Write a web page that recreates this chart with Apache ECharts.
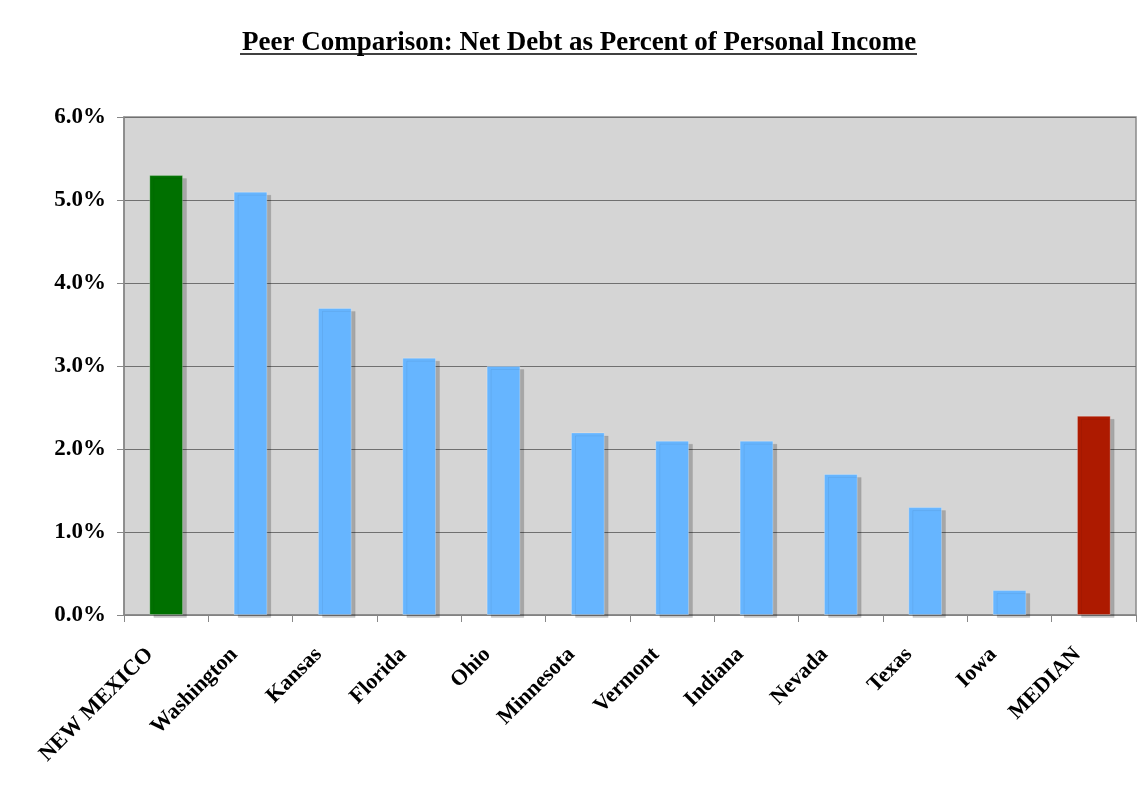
<!DOCTYPE html>
<html>
<head>
<meta charset="utf-8">
<script src="https://cdn.jsdelivr.net/npm/echarts@6/dist/echarts.min.js"></script>
<style>
html,body{margin:0;padding:0;background:#fff;}
#c{width:1143px;height:790px;}
</style>
</head>
<body>
<div id="c"></div>
<script>
const categories = ["NEW MEXICO","Washington","Kansas","Florida","Ohio","Minnesota","Vermont","Indiana","Nevada","Texas","Iowa","MEDIAN"];
const values = [5.3, 5.1, 3.7, 3.1, 3.0, 2.2, 2.1, 2.1, 1.7, 1.3, 0.3, 2.4];
const barColors = ["#007000","#66B5FF","#66B5FF","#66B5FF","#66B5FF","#66B5FF","#66B5FF","#66B5FF","#66B5FF","#66B5FF","#66B5FF","#AD1A00"];
const titleText = "Peer Comparison: Net Debt as Percent of Personal Income";

const chart = echarts.init(document.getElementById('c'));
const font = '"Liberation Serif", "Times New Roman", serif';
chart.setOption({
  backgroundColor: '#ffffff',
  animation: false,
  title: {
    text: titleText,
    left: 237,
    top: 25,
    textStyle: { fontFamily: font, fontWeight: 'bold', fontSize: 27, color: '#000' }
  },
  graphic: [{
    type: 'line',
    shape: { x1: 240, y1: 54, x2: 917, y2: 54 },
    style: { stroke: '#000', lineWidth: 1.5 }
  }],
  grid: {
    left: 124, right: 7, top: 117, bottom: 175,
    show: true, backgroundColor: '#D5D5D5', borderColor: '#8a8a8a', borderWidth: 1.5
  },
  xAxis: {
    type: 'category',
    data: categories,
    axisLine: { show: true, lineStyle: { color: '#888', width: 1.5 } },
    axisTick: { show: true, alignWithLabel: false, length: 7, lineStyle: { color: '#888' } },
    axisLabel: {
      rotate: 45, interval: 0, margin: 20,
      padding: [0, 23, 0, 0],
      fontFamily: font, fontWeight: 'bold', fontSize: 22, color: '#000'
    }
  },
  yAxis: {
    type: 'value',
    min: 0, max: 6, interval: 1,
    axisLine: { show: true, lineStyle: { color: '#888', width: 1.5 } },
    axisTick: { show: true, length: 7, lineStyle: { color: '#888' } },
    splitLine: { show: true, lineStyle: { color: '#707070', width: 1 } },
    axisLabel: {
      margin: 18,
      formatter: v => v.toFixed(1) + '%',
      fontFamily: font, fontWeight: 'bold', fontSize: 23, color: '#000'
    }
  },
  series: [{
    type: 'bar',
    barWidth: '40%',
    data: values.map((v, i) => ({
      value: v,
      itemStyle: {
        color: barColors[i],
        borderColor: 'rgba(255,255,255,0.25)',
        borderWidth: 1,
        shadowColor: 'rgba(0,0,0,0.22)',
        shadowBlur: 0,
        shadowOffsetX: 4,
        shadowOffsetY: 3
      }
    }))
  }]
});
</script>
</body>
</html>
